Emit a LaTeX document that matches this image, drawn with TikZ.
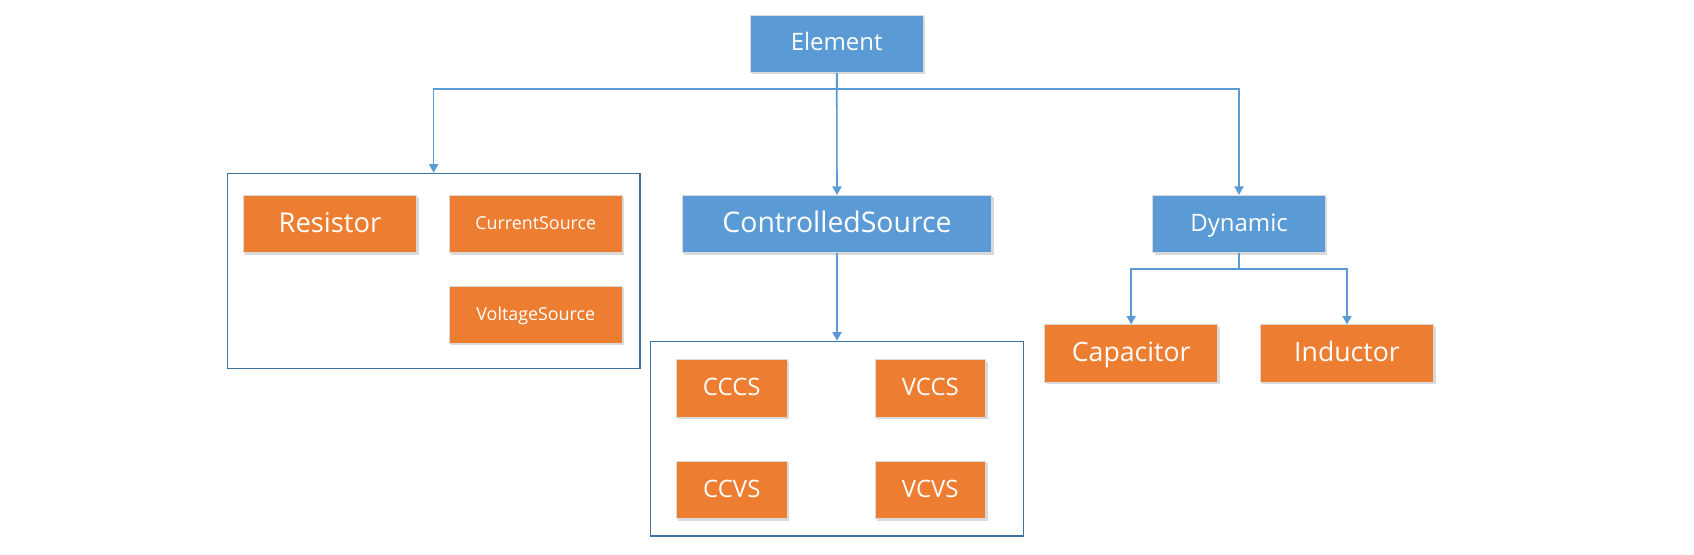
\documentclass[tikz,border=0pt]{standalone}
\usepackage{fontspec}
\setmainfont{Open Sans}
\usetikzlibrary{arrows.meta,shadows,fit}
\definecolor{bblue}{HTML}{5B9BD5}
\definecolor{borange}{HTML}{ED7D31}
\definecolor{frameblue}{HTML}{41719C}
\definecolor{lineblue}{HTML}{5B9BD5}
\tikzset{
  boxbase/.style={draw=black!15, line width=0.6pt, text=white, inner sep=0pt,
    minimum height=43pt,
    drop shadow={shadow xshift=1.5pt, shadow yshift=-1.5pt, opacity=0.25, fill=black!60}},
  tsz/.style={font=\fontsize{#1}{#1}\selectfont, text height={0.72*#1pt}, text depth={0.12*#1pt}},
  bluebox/.style={boxbase, fill=bblue},
  orangebox/.style={boxbase, fill=borange},
  groupframe/.style={draw=frameblue, line width=0.9pt, inner sep=0pt},
  conn/.style={draw=lineblue, line width=1.2pt, -{Triangle[width=7pt,length=6.5pt]}},
  connplain/.style={draw=lineblue, line width=1.2pt},
}
\begin{document}
\begin{tikzpicture}[x=0.75pt,y=-0.75pt]
\useasboundingbox (0,0) rectangle (1694,555);
\node[bluebox, minimum width=130pt, tsz=18] (elem) at (836.7,43.7) {Element};
\node[bluebox, minimum width=232pt, tsz=21.3] (cs) at (837,224) {ControlledSource};
\node[bluebox, minimum width=129.5pt, tsz=18] (dyn) at (1239,224) {Dynamic};
\node[orangebox, minimum width=130pt, tsz=20.5] (res) at (330,224) {Resistor};
\node[orangebox, minimum width=130pt, tsz=13.4] (isrc) at (535.8,224) {CurrentSource};
\node[orangebox, minimum width=130pt, tsz=13.4] (vsrc) at (535.8,314.8) {VoltageSource};
\node[orangebox, minimum width=130pt, tsz=20] (cap) at (1131.2,353.5) {Capacitor};
\node[orangebox, minimum width=130pt, tsz=20] (ind) at (1347,353.5) {Inductor};
\node[orangebox, minimum width=83pt, tsz=18] (cccs) at (731.8,388.3) {CCCS};
\node[orangebox, minimum width=83pt, tsz=18] (vccs) at (930.3,388.3) {VCCS};
\node[orangebox, minimum width=83pt, tsz=18] (ccvs) at (731.8,490) {CCVS};
\node[orangebox, minimum width=83pt, tsz=18] (vcvs) at (930.3,490) {VCVS};
\coordinate (f1a) at (227.3,173.3);
\coordinate (f1b) at (640,368.3);
\coordinate (f2a) at (650.7,341.3);
\coordinate (f2b) at (1023.3,536);
\node[groupframe, fit=(f1a)(f1b)] (frame1) {};
\node[groupframe, fit=(f2a)(f2b)] (frame2) {};
\coordinate (bus) at (836.7,89.3);
\coordinate (dbus) at (1239,269.3);
\draw[conn] (elem.south) -- (cs.north);
\draw[conn] (elem.south) |- (bus) -| (frame1.north);
\draw[conn] (bus) -| (dyn.north);
\draw[conn] (cs.south) -- (frame2.north);
\draw[connplain] (dyn.south) -- (dbus);
\draw[conn] (dbus) -| (cap.north);
\draw[conn] (dbus) -| (ind.north);
\end{tikzpicture}
\end{document}
